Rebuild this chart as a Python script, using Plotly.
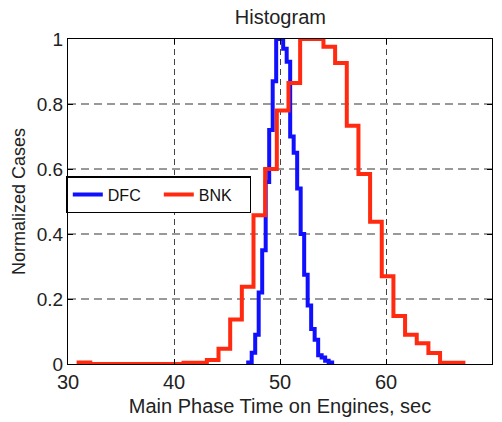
import numpy as np
import plotly.graph_objects as go

# ---- data ----
bnk_first_edge = 31.0
bnk_bin_width = 1.1
bnk_heights = [0.005, 0, 0, 0, 0, 0, 0, 0, 0, 0.004, 0.004, 0.012, 0.047, 0.137,
               0.238, 0.458, 0.60, 0.78, 0.865, 1.0, 1.0, 0.976, 0.926, 0.733,
               0.585, 0.438, 0.27, 0.148, 0.09, 0.064, 0.034, 0.004, 0.004]

dfc_first_edge = 47.0
dfc_bin_width = 0.33
dfc_heights = [0.005, 0.035, 0.09, 0.22, 0.35, 0.56, 0.72, 0.87, 1.0, 1.0,
               0.97, 0.93, 0.70, 0.65, 0.54, 0.40, 0.275, 0.18, 0.108, 0.075,
               0.027, 0.02, 0.01, 0.005]

x_ticks = [30, 40, 50, 60, 70]
y_ticks = [0, 0.2, 0.4, 0.6, 0.8, 1.0]
y_tick_text = ["0", "0.2", "0.4", "0.6", "0.8", "1"]


def staircase(first_edge, width, heights):
    n = len(heights)
    edges = first_edge + width * np.arange(n + 1)
    xs = [edges[0]] + list(edges[:n]) + [edges[n]]
    ys = [0] + list(heights) + [0]
    return xs, ys


fx, fy = staircase(dfc_first_edge, dfc_bin_width, dfc_heights)
bx, by = staircase(bnk_first_edge, bnk_bin_width, bnk_heights)

FONT = "Liberation Sans, Arial, Helvetica, sans-serif"

fig = go.Figure()
fig.add_trace(go.Scatter(x=fx, y=fy, mode="lines", name="DFC",
                         line=dict(color="#1010ff", width=4, shape="hv")))
fig.add_trace(go.Scatter(x=bx, y=by, mode="lines", name="BNK",
                         line=dict(color="#ff2a10", width=4, shape="hv")))

fig.update_layout(
    width=502, height=422,
    margin=dict(l=68, r=9, t=39, b=55),
    paper_bgcolor="white", plot_bgcolor="white",
    font=dict(family=FONT, size=19, color="#222"),
    title=dict(text="Histogram", x=0.5585, xanchor="center",
               y=0.96, yanchor="middle", yref="container",
               font=dict(size=20, color="#222")),
    showlegend=True,
    legend=dict(orientation="h", x=-0.004, xanchor="left", y=0.578, yanchor="top",
                bgcolor="white", bordercolor="black", borderwidth=1.5,
                font=dict(size=16, color="#111"),
                entrywidth=46, entrywidthmode="pixels",
                itemwidth=30),
)

fig.update_xaxes(
    range=[30, 70], tickvals=x_ticks, ticktext=[str(v) for v in x_ticks],
    ticks="inside", ticklen=5, tickcolor="black",
    showline=True, linecolor="black", linewidth=1.2, mirror="ticks",
    showgrid=True, gridcolor="#444", gridwidth=1, griddash="6px,4px",
    zeroline=False,
    title=dict(text="Main Phase Time on Engines, sec", font=dict(size=20), standoff=6),
    tickfont=dict(size=20),
)
fig.update_yaxes(
    range=[0, 1], tickvals=y_ticks, ticktext=y_tick_text,
    ticks="inside", ticklen=5, tickcolor="black",
    showline=True, linecolor="black", linewidth=1.2, mirror="ticks",
    showgrid=True, gridcolor="#999", gridwidth=1.5, griddash="8px,5px",
    zeroline=False,
    title=dict(text="Normalized Cases", font=dict(size=18), standoff=6),
    tickfont=dict(size=19),
)

fig.write_html("out.html")
